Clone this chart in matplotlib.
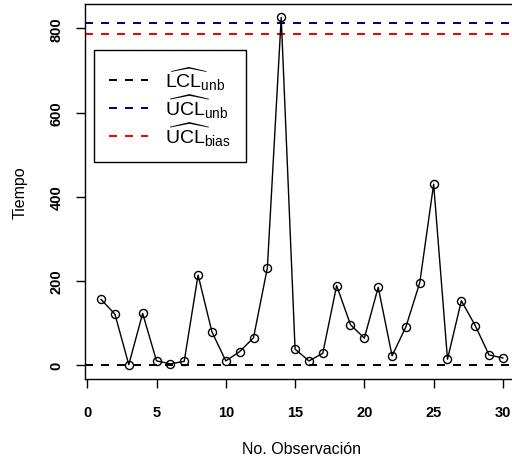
import matplotlib
matplotlib.use("Agg")
import matplotlib.pyplot as plt
from matplotlib.lines import Line2D

plt.rcParams['font.family'] = ['Liberation Sans', 'DejaVu Sans']
plt.rcParams['mathtext.fontset'] = 'custom'
plt.rcParams['mathtext.rm'] = 'Liberation Sans'
plt.rcParams['mathtext.it'] = 'Liberation Sans:italic'
plt.rcParams['mathtext.bf'] = 'Liberation Sans:bold'

# Data
obs = list(range(1, 31))
tiempo = [156, 121, 1, 123, 10, 3, 9, 214, 79, 10,
          32, 65, 231, 826, 38, 10, 28, 189, 96, 64,
          185, 22, 91, 196, 430, 14, 153, 94, 24, 17]
lcl_unb = 0
ucl_unb = 812
ucl_bias = 786
xticks = [0, 5, 10, 15, 20, 25, 30]
yticks = [0, 200, 400, 600, 800]
labels = [r'$\widehat{\mathrm{LCL}}_{\mathrm{unb}}$',
          r'$\widehat{\mathrm{UCL}}_{\mathrm{unb}}$',
          r'$\widehat{\mathrm{UCL}}_{\mathrm{bias}}$']
colors = ['black', '#00008B', '#FF0000']

W, H = 512, 460
fig = plt.figure(figsize=(W / 100, H / 100), dpi=100)
L, R, T, B = 85, 519, 5, 380
ax = fig.add_axes([L / W, (H - B) / H, (R - L) / W, (B - T) / H])

ax.plot(obs, tiempo, color='black', lw=1.0, marker='o', ms=5.8,
        mfc='none', mec='black', mew=1.0, zorder=3)
dash = (0, (4, 4))
for val, col in zip([lcl_unb, ucl_unb, ucl_bias], colors):
    ax.axhline(val, color=col, lw=1.44, ls=dash)

ax.set_xlim(-0.16, 31.16)
ax.set_ylim(-33, 858)
ax.set_xticks(xticks)
ax.set_yticks(yticks)
ax.set_xticklabels([str(v) for v in xticks], fontweight='bold', fontsize=10.5)
ax.set_yticklabels([str(v) for v in yticks], fontweight='bold', fontsize=10.5,
                   rotation=90, va='center')
ax.tick_params(axis='x', length=6.5, width=1, pad=12)
ax.tick_params(axis='y', length=6.5, width=1, pad=9)
for s in ax.spines.values():
    s.set_linewidth(1.0)

ax.set_xlabel('No. Observación', fontsize=11.5, labelpad=16)
ax.set_ylabel('Tiempo', fontsize=11.5, labelpad=16)

handles = [Line2D([], [], color=c, lw=1.44, ls=dash) for c in colors]
leg = ax.legend(handles, labels, loc='upper left',
                bbox_to_anchor=(0.0207, 0.877),
                borderaxespad=0, fancybox=False, edgecolor='black',
                framealpha=1, fontsize=14, handlelength=2.05,
                handletextpad=0.87, labelspacing=0.0, borderpad=0.75)
leg.get_frame().set_linewidth(1.0)

fig.savefig('out.png', dpi=100)
